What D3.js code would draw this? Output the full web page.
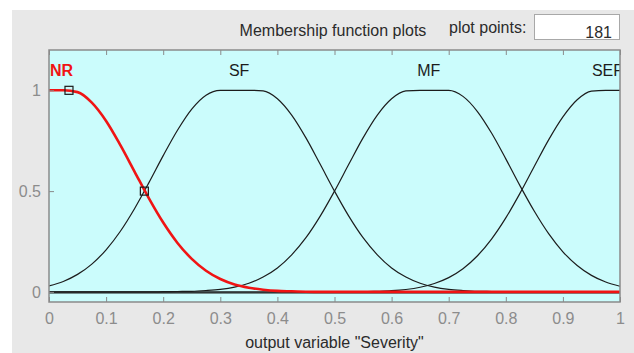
<!DOCTYPE html>
<html>
<head>
<meta charset="utf-8">
<script src="https://cdn.jsdelivr.net/npm/d3@7"></script>
<style>
  html, body { margin: 0; padding: 0; background: #ffffff; }
  svg { display: block; }
  text { font-family: "Liberation Sans Narrow", "Liberation Sans", Arial, sans-serif; }
</style>
</head>
<body>
<svg id="chart" width="634" height="353"></svg>
<script>
// Output variable "Severity" sampled on the universe [0, 1]
const severity = [0, 0.025, 0.05, 0.075, 0.1, 0.125, 0.15, 0.175, 0.2, 0.225,
  0.25, 0.275, 0.3, 0.325, 0.35, 0.375, 0.4, 0.425, 0.45, 0.475,
  0.5, 0.525, 0.55, 0.575, 0.6, 0.625, 0.65, 0.675, 0.7, 0.725,
  0.75, 0.775, 0.8, 0.825, 0.85, 0.875, 0.9, 0.925, 0.95, 0.975, 1];

// Membership degrees of each fuzzy set
const muNR = [1, 1, 0.991, 0.939, 0.848, 0.728, 0.596, 0.464, 0.344, 0.243,
  0.164, 0.105, 0.064, 0.037, 0.021, 0.011, 0.005, 0.003, 0.001, 0,
  0, 0, 0, 0, 0, 0, 0, 0, 0, 0,
  0, 0, 0, 0, 0, 0, 0, 0, 0, 0, 0];
const muSF = [0.030, 0.052, 0.087, 0.138, 0.209, 0.301, 0.414, 0.542, 0.676, 0.802,
  0.907, 0.976, 1, 1, 1, 0.997, 0.958, 0.877, 0.764, 0.633,
  0.500, 0.376, 0.269, 0.184, 0.119, 0.074, 0.043, 0.024, 0.013, 0.007,
  0.003, 0.002, 0.001, 0, 0, 0, 0, 0, 0, 0, 0];
const muMF = [0, 0, 0, 0, 0, 0, 0, 0, 0.001, 0.002,
  0.003, 0.007, 0.013, 0.024, 0.043, 0.074, 0.119, 0.184, 0.269, 0.376,
  0.500, 0.633, 0.764, 0.877, 0.958, 0.997, 1, 1, 1, 0.970,
  0.896, 0.788, 0.660, 0.526, 0.400, 0.289, 0.199, 0.131, 0.082, 0.049, 0.028];
const muSEF = [0, 0, 0, 0, 0, 0, 0, 0, 0, 0,
  0, 0, 0, 0, 0, 0, 0, 0, 0, 0,
  0, 0.001, 0.001, 0.003, 0.006, 0.012, 0.023, 0.042, 0.071, 0.115,
  0.178, 0.262, 0.367, 0.490, 0.623, 0.754, 0.868, 0.953, 0.996, 1, 1];

// Set names and where each name sits along the axis
const mfNames = ["NR", "SF", "MF", "SEF"];
const mfCenters = [0.022, 0.333, 0.665, 0.978];
const mfSeries = [muNR, muSF, muMF, muSEF];
const selectedMF = "NR";

// Editing handles of the selected set
const handleX = [0.035, 0.167];
const handleY = [1, 0.5];

const xTicks = [0, 0.1, 0.2, 0.3, 0.4, 0.5, 0.6, 0.7, 0.8, 0.9, 1];
const xTickLabels = ["0", "0.1", "0.2", "0.3", "0.4", "0.5", "0.6", "0.7", "0.8", "0.9", "1"];
const yTicks = [0, 0.5, 1];
const yTickLabels = ["0", "0.5", "1"];
const plotPoints = 181;

const svg = d3.select("#chart");

// window panel
svg.append("rect").attr("x", 12).attr("y", 10).attr("width", 622).attr("height", 343)
  .attr("fill", "#e8e8e8");

const plot = { left: 49, right: 620, top: 50, bottom: 302 };
const x = d3.scaleLinear().domain([0, 1]).range([plot.left, plot.right]);
const y = d3.scaleLinear().domain([-0.05, 1.2]).range([plot.bottom, plot.top]);

// header
svg.append("text").attr("x", 333).attr("y", 36).attr("text-anchor", "middle")
  .attr("font-size", 16).attr("fill", "#2b2b2b")
  .text("Membership function plots");
svg.append("text").attr("x", 449).attr("y", 33)
  .attr("font-size", 16).attr("fill", "#2b2b2b")
  .text("plot points:");
svg.append("rect").attr("x", 534.5).attr("y", 14.5).attr("width", 85).attr("height", 25)
  .attr("fill", "#ffffff").attr("stroke", "#a8a8a8").attr("stroke-width", 1);
svg.append("text").attr("x", 612).attr("y", 38).attr("text-anchor", "end")
  .attr("font-size", 16).attr("fill", "#2b2b2b")
  .text(String(plotPoints));

// plot background
svg.append("rect").attr("x", plot.left).attr("y", plot.top)
  .attr("width", plot.right - plot.left).attr("height", plot.bottom - plot.top)
  .attr("fill", "#cbfcfc");

svg.append("clipPath").attr("id", "plotClip")
  .append("rect").attr("x", plot.left).attr("y", plot.top)
  .attr("width", plot.right - plot.left).attr("height", plot.bottom - plot.top);

const g = svg.append("g").attr("clip-path", "url(#plotClip)");

// zero line
g.append("line").attr("x1", x(0)).attr("x2", x(1))
  .attr("y1", y(0) + 1).attr("y2", y(0) + 1)
  .attr("stroke", "#1a1a1a").attr("stroke-width", 1.2);

const line = d3.line()
  .x((d, i) => x(severity[i]))
  .y(d => y(d))
  .curve(d3.curveMonotoneX);

// unselected sets first, selected one on top
mfNames.forEach((name, k) => {
  if (name === selectedMF) return;
  g.append("path").datum(mfSeries[k]).attr("d", line)
    .attr("fill", "none").attr("stroke", "#1c1c1c").attr("stroke-width", 1.2);
});
mfNames.forEach((name, k) => {
  if (name !== selectedMF) return;
  g.append("path").datum(mfSeries[k]).attr("d", line)
    .attr("fill", "none").attr("stroke", "#f01414").attr("stroke-width", 2.6);
});

// handles
handleX.forEach((hx, i) => {
  g.append("rect").attr("x", x(hx) - 4).attr("y", y(handleY[i]) - 4)
    .attr("width", 8).attr("height", 8)
    .attr("fill", "none").attr("stroke", "#1a1a1a").attr("stroke-width", 1.2);
});

// set names
mfNames.forEach((name, k) => {
  const sel = name === selectedMF;
  g.append("text").attr("x", x(mfCenters[k])).attr("y", y(1.1) + 6)
    .attr("text-anchor", "middle").attr("font-size", 16)
    .attr("font-weight", sel ? "bold" : "normal")
    .attr("fill", sel ? "#f01414" : "#1c1c1c")
    .text(name);
});

// axes
const tickColor = "#8a8a8a";
const axB = svg.append("g").attr("transform", `translate(0,${plot.bottom})`)
  .call(d3.axisBottom(x).tickValues(xTicks).tickSize(-5).tickPadding(11)
    .tickFormat((d, i) => xTickLabels[i]));
const axT = svg.append("g").attr("transform", `translate(0,${plot.top})`)
  .call(d3.axisTop(x).tickValues(xTicks).tickSize(-5).tickFormat(""));
const axL = svg.append("g").attr("transform", `translate(${plot.left},0)`)
  .call(d3.axisLeft(y).tickValues(yTicks).tickSize(-5).tickPadding(8)
    .tickFormat((d, i) => yTickLabels[i]));
[axB, axT, axL].forEach(a => {
  a.select(".domain").remove();
  a.selectAll("line").attr("stroke", tickColor);
  a.selectAll("text").attr("fill", "#8c8c8c").attr("font-size", 16)
    .style("font-family", "'Liberation Sans Narrow', 'Liberation Sans', Arial, sans-serif");
});

// plot frame
svg.append("rect").attr("x", plot.left).attr("y", plot.top)
  .attr("width", plot.right - plot.left).attr("height", plot.bottom - plot.top)
  .attr("fill", "none").attr("stroke", "#8a8a8a").attr("stroke-width", 1.5);

// axis title
svg.append("text").attr("x", (plot.left + plot.right) / 2).attr("y", 348)
  .attr("text-anchor", "middle").attr("font-size", 16).attr("fill", "#2b2b2b")
  .text('output variable "Severity"');
</script>
</body>
</html>
